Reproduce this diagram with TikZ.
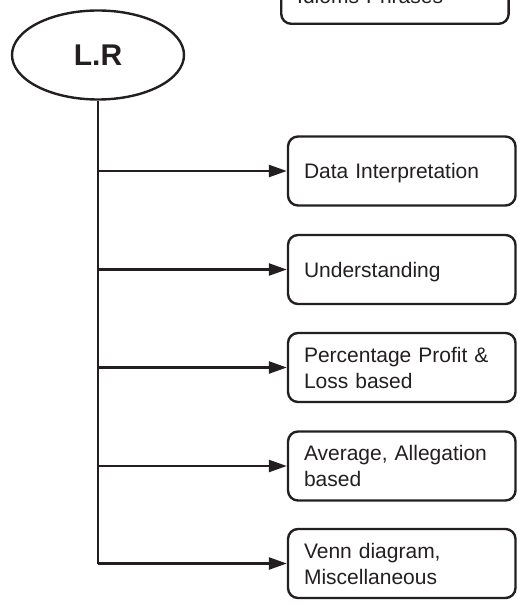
\documentclass[tikz,border=0pt]{standalone}
\usepackage{fontspec}
\setmainfont{Liberation Sans}
\usetikzlibrary{arrows.meta,shapes.geometric}
\definecolor{inkgrey}{RGB}{35,31,32}
\tikzset{
  topicbox/.style={rectangle, draw=inkgrey, text=inkgrey, line width=1.8pt, rounded corners=7.5pt,
    text width=146.6pt, inner xsep=12pt, inner ysep=0pt, minimum height=51.75pt, align=left,
    font=\fontsize{15.75}{19.5}\selectfont},
  oneline/.style={text depth=0pt},
  branch/.style={draw=inkgrey, line width=1.8pt, -{Triangle[length=13.5pt,width=9pt]}},
}

\begin{document}
\begin{tikzpicture}[x=0.75pt,y=0.75pt,yscale=-1,xscale=1]
\useasboundingbox (0,0) rectangle (517,606);
%Shape: Ellipse [id:lr]
\node [ellipse, draw=inkgrey, line width=1.8pt, minimum width=129pt, minimum height=66.75pt, inner sep=0pt, text=inkgrey, font=\fontsize{22.5}{27}\selectfont\bfseries] (lr) at (98,55) {L.R};
%Rounded Rect [id:idp]
\node [topicbox, text height=21.75pt, text depth=0pt, anchor=south west] (idp) at (280,25) {Idioms Phrases};
%Rounded Rect [id:di]
\node [topicbox, oneline] (di) at (401.75,171) {Data Interpretation};
%Rounded Rect [id:und]
\node [topicbox, oneline] (und) at (401.75,269.5) {Understanding};
%Rounded Rect [id:ppl]
\node [topicbox] (ppl) at (401.75,367.5) {Percentage Profit \&\\Loss based};
%Rounded Rect [id:aal]
\node [topicbox] (aal) at (401.75,466) {Average, Allegation\\based};
%Rounded Rect [id:venn]
\node [topicbox] (venn) at (401.75,563.5) {Venn diagram,\\Miscellaneous};
%Straight Lines [id:trunk]
\draw [draw=inkgrey, line width=1.8pt] (lr.south) -- (lr.south |- venn.west) ;
%Straight Lines [id:arrows]
\draw [branch] (lr.south |- di.west) -- (di.west) ;
\draw [branch] (lr.south |- und.west) -- (und.west) ;
\draw [branch] (lr.south |- ppl.west) -- (ppl.west) ;
\draw [branch] (lr.south |- aal.west) -- (aal.west) ;
\draw [branch] (lr.south |- venn.west) -- (venn.west) ;
\end{tikzpicture}
\end{document}
